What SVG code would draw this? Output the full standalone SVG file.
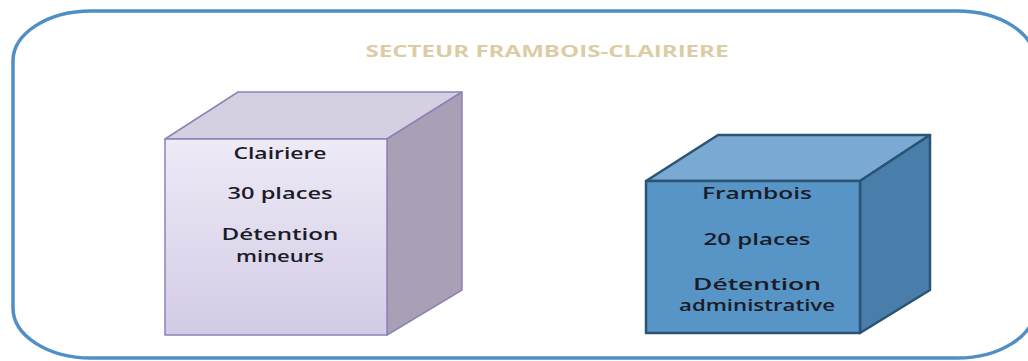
<svg xmlns="http://www.w3.org/2000/svg" width="1028" height="361" viewBox="0 0 1028 361">
  <defs>
    <linearGradient id="lilacFront" x1="0" y1="0" x2="0" y2="1">
      <stop offset="0" stop-color="#eeeaf6"/>
      <stop offset="1" stop-color="#d3cbe6"/>
    </linearGradient>
  </defs>
  <style>
    .frame { fill: #ffffff; stroke: #4f8fc5; stroke-width: 3.5; }
    .title { font-family: "Open Sans", "Liberation Sans", sans-serif; font-weight: bold; font-size: 16px; fill: #dccca4; text-anchor: middle; }
    .label { font-family: "Open Sans", "Liberation Sans", sans-serif; font-weight: 600; fill: #1c1c28; text-anchor: middle; }
    .small { font-size: 17px; }
    .large { font-size: 17px; }
    .lilac { stroke: #8f83b6; stroke-width: 1.5; stroke-linejoin: round; }
    .blue { stroke: #2b5474; stroke-width: 2.5; stroke-linejoin: round; }
  </style>

  <rect class="frame" x="13" y="11" width="1022" height="347" rx="78" ry="50"/>
  <text class="title" x="547" y="57" textLength="363" lengthAdjust="spacingAndGlyphs">SECTEUR FRAMBOIS-CLAIRIERE</text>

  <g id="clairiere">
    <polygon class="lilac" points="165,139 238,92 462,92 387,139" fill="#d5cfe2"/>
    <polygon class="lilac" points="387,139 462,92 462,290 387,335" fill="#a9a0b5"/>
    <rect class="lilac" x="165" y="139" width="222" height="196" fill="url(#lilacFront)"/>
    <text class="label small" x="280" y="159" textLength="93" lengthAdjust="spacingAndGlyphs">Clairiere</text>
    <text class="label small" x="280" y="199" textLength="105" lengthAdjust="spacingAndGlyphs">30 places</text>
    <text class="label small" x="280" y="240" textLength="117" lengthAdjust="spacingAndGlyphs">Détention</text>
    <text class="label small" x="280" y="262" textLength="88" lengthAdjust="spacingAndGlyphs">mineurs</text>
  </g>

  <g id="frambois">
    <polygon class="blue" points="646,181 718,135 930,135 860,181" fill="#7aaad3"/>
    <polygon class="blue" points="860,181 930,135 930,290 860,333" fill="#4a7eaa"/>
    <rect class="blue" x="646" y="181" width="214" height="152" fill="#5795c6"/>
    <text class="label large" x="757" y="199" textLength="110" lengthAdjust="spacingAndGlyphs">Frambois</text>
    <text class="label large" x="757" y="245" textLength="107" lengthAdjust="spacingAndGlyphs">20 places</text>
    <text class="label large" x="757" y="290" textLength="128" lengthAdjust="spacingAndGlyphs">Détention</text>
    <text class="label large" x="757" y="311" textLength="156" lengthAdjust="spacingAndGlyphs">administrative</text>
  </g>

  <g id="connectors"/>
</svg>
